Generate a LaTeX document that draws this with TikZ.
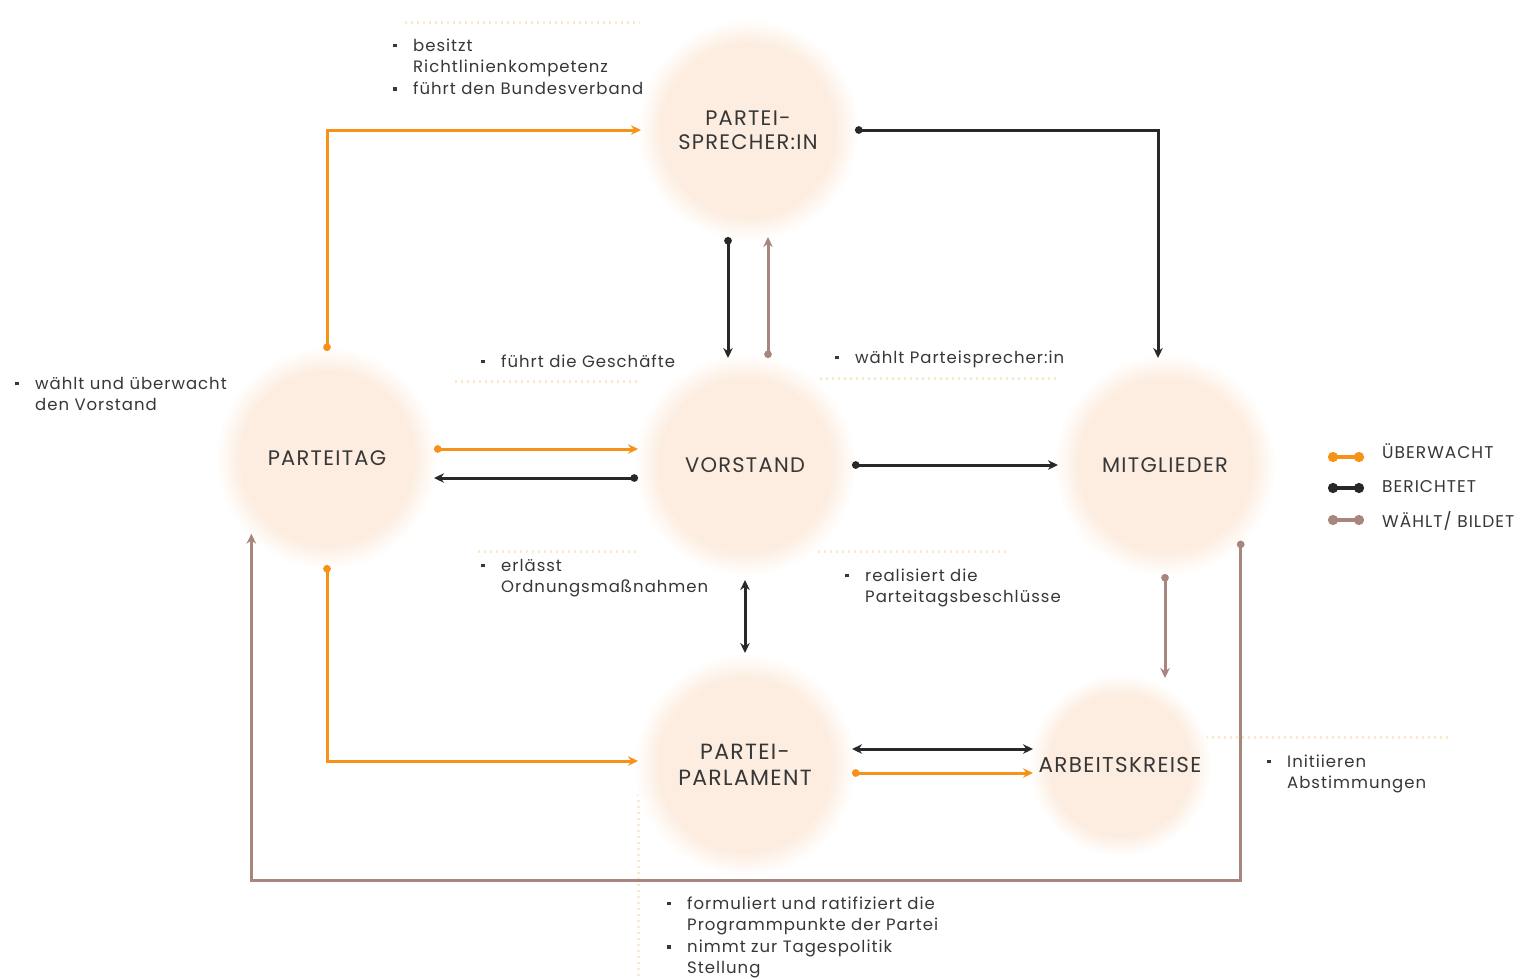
\documentclass[tikz,border=0pt]{standalone}
\usepackage{fontspec}
\setmainfont{Poppins}[LetterSpace=6]
\usetikzlibrary{arrows.meta}
\definecolor{peach}{RGB}{253,237,224}
\definecolor{ora}{RGB}{247,146,24}
\definecolor{blk}{RGB}{40,40,40}
\definecolor{brn}{RGB}{168,134,126}
\definecolor{txt}{RGB}{55,55,55}
\definecolor{dotc}{RGB}{250,234,200}
\pgfdeclareradialshading{blob}{\pgfpoint{0bp}{0bp}}{color(0bp)=(peach); color(19.5bp)=(peach); color(25bp)=(white); color(50bp)=(white)}
\newcommand\sq{\raisebox{0.22em}{\rule{3.6pt}{3.6pt}}}
\newcommand\blist[1]{{\fontsize{16.5}{21.6}\selectfont\color{txt}\begin{tabular}[t]{@{}p{20pt}@{}l@{}}#1\end{tabular}}}
\begin{document}
\begin{tikzpicture}[x=1pt,y=-1pt,
  blobnode/.style={circle,shading=blob,minimum size=#1,inner sep=0pt,outer sep=-4pt,
     text=txt,font=\fontsize{21}{24}\selectfont,align=center},
  lbl/.style={anchor=base west,inner sep=0pt},
  cstart/.style={line width=3pt,{Circle[length=7.5pt]}-{Stealth[length=10pt,width=9.5pt]}},
  both/.style={line width=3pt,{Stealth[length=10pt,width=9.5pt]}-{Stealth[length=10pt,width=9.5pt]}},
  deco/.style={dotc,line width=3pt,dash pattern=on 2pt off 4pt},
  legline/.style={line width=3.5pt,{Circle[length=10pt]}-{Circle[length=10pt]}},
  legtxt/.style={anchor=west,text=txt,font=\fontsize{17}{20}\selectfont,inner sep=0pt}]
\useasboundingbox (0,0) rectangle (1531,978);
\fill[white] (0,0) rectangle (1531,978);

% decorative faint dotted lines
\draw[deco] (405,22) -- (640,22);
\draw[deco] (455,381) -- (640,381);
\draw[deco] (820,378) -- (1060,378);
\draw[deco] (478,551) -- (640,551);
\draw[deco] (818,551) -- (1010,551);
\draw[deco] (638,770) -- (638,978);
\draw[deco] (1200,737) -- (1450,737);

% circles
\node[blobnode=222pt] (spr) at (748,130) {PARTEI-\\SPRECHER:IN};
\node[blobnode=222pt] (vor) at (745,465) {VORSTAND};
\node[blobnode=222pt] (tag) at (327,458) {PARTEITAG};
\node[blobnode=222pt] (mit) at (1165,465) {MITGLIEDER};
\node[blobnode=222pt,font=\fontsize{22}{26}\selectfont] (parl) at (745,765) {PARTEI-\\PARLAMENT};
\node[blobnode=182pt,font=\fontsize{21.5}{24}\selectfont] (ark) at (1120,765) {ARBEITSKREISE};

% connectors
\draw[cstart,ora] (tag.north) |- (spr.west);
\draw[cstart,blk] (spr.east) -| ([xshift=-7pt]mit.north);
\draw[cstart,blk] ([xshift=-20pt]spr.south) -- ([xshift=-20pt]spr.south |- vor.north);
\draw[cstart,brn] ([xshift=20pt]spr.south |- vor.north) -- ([xshift=20pt]spr.south);
\draw[cstart,ora] (tag.east |- 0,449) -- (vor.west |- 0,449);
\draw[cstart,blk] (vor.west |- 0,478) -- (tag.east |- 0,478);
\draw[cstart,blk] (vor.east) -- (mit.west);
\draw[both,blk] ([yshift=-8pt]vor.south) -- ([yshift=5pt]vor.south |- parl.north);
\draw[cstart,ora] (tag.south) |- (parl.west |- 0,761);
\draw[both,blk] (parl.east |- 0,749) -- (ark.west |- 0,749);
\draw[cstart,ora] (parl.east |- 0,773) -- (ark.west |- 0,773);
\draw[cstart,brn] ([yshift=-2pt]mit.south) -- (mit.south |- ark.north);
\draw[cstart,brn] (mit.south east) -- (mit.south east |- 0,880) -| (tag.south west);

% annotation lists
\node[lbl] (t1) at (393,51) {\blist{\sq & besitzt\\ & Richtlinienkompetenz\\ \sq & führt den Bundesverband}};
\node[lbl] (t2) at (15,389) {\blist{\sq & wählt und überwacht\\ & den Vorstand}};
\node[lbl] (t3) at (481,367) {\blist{\sq & führt die Geschäfte}};
\node[lbl] (t4) at (835,363) {\blist{\sq & wählt Parteisprecher:in}};
\node[lbl] (t5) at (481,571) {\blist{\sq & erlässt\\ & Ordnungsmaßnahmen}};
\node[lbl] (t6) at (845,581) {\blist{\sq & realisiert die\\ & Parteitagsbeschlüsse}};
\node[lbl] (t7) at (1267,767) {\blist{\sq & Initiieren\\ & Abstimmungen}};
\node[lbl] (t8) at (667,909) {\blist{\sq & formuliert und ratifiziert die\\ & Programmpunkte der Partei\\ \sq & nimmt zur Tagespolitik\\ & Stellung}};

% legend
\coordinate (l1a) at (1328,457); \coordinate (l1b) at (1364,457);
\coordinate (l2a) at (1328,488); \coordinate (l2b) at (1364,488);
\coordinate (l3a) at (1328,520); \coordinate (l3b) at (1364,520);
\draw[legline,ora] (l1a) -- (l1b);
\draw[legline,blk] (l2a) -- (l2b);
\draw[legline,brn] (l3a) -- (l3b);
\node[legtxt] (g1) at (1382,451) {ÜBERWACHT};
\node[legtxt] (g2) at (1382,487) {BERICHTET};
\node[legtxt] (g3) at (1382,521) {WÄHLT/ BILDET};
\end{tikzpicture}
\end{document}
